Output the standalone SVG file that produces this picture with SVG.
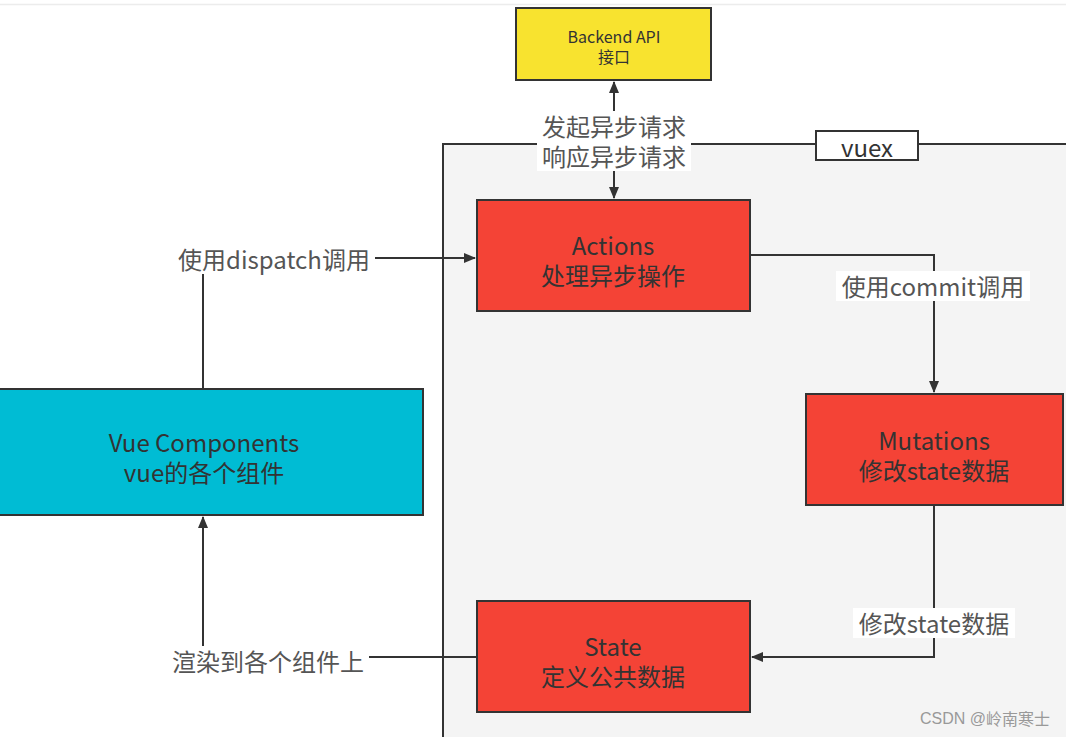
<svg xmlns="http://www.w3.org/2000/svg" width="1066" height="737" viewBox="0 0 1066 737">
<style>
.box{stroke:#333;stroke-width:2}
.t{font-family:"Noto Sans CJK SC","Noto Sans",sans-serif;font-size:24px;fill:#333;text-anchor:middle;dominant-baseline:central}
.lbl{font-family:"Noto Sans CJK SC","Noto Sans",sans-serif;font-size:24px;fill:#555;text-anchor:middle;dominant-baseline:central}
.ln{fill:none;stroke:#333;stroke-width:2}
</style>
<defs>
<marker id="ah" viewBox="0 0 12 10" refX="11" refY="5" markerWidth="12" markerHeight="10" markerUnits="userSpaceOnUse" orient="auto-start-reverse">
<path d="M0,0 L12,5 L0,10 Z" fill="#333"/>
</marker>
</defs>
<rect x="0" y="0" width="1066" height="737" fill="#fff"/>
<line x1="0" y1="4.5" x2="1066" y2="4.5" stroke="#ececec" stroke-width="1.5"/>
<g id="vuex">
<rect x="443" y="144" width="640" height="620" fill="#f4f4f4" class="box"/>
<rect x="816" y="131" width="102" height="29" fill="#fff" class="box"/>
<text x="867" y="146" class="t">vuex</text>
</g>
<g id="connectors">
<line x1="614" y1="198" x2="614" y2="82" class="ln" marker-start="url(#ah)" marker-end="url(#ah)"/>
<polyline points="203,389 203,258 475,258" class="ln" marker-end="url(#ah)"/>
<polyline points="751,255 934,255 934,392" class="ln" marker-end="url(#ah)"/>
<polyline points="934,506 934,657 752,657" class="ln" marker-end="url(#ah)"/>
<polyline points="476,657 203,657 203,517" class="ln" marker-end="url(#ah)"/>
<rect x="537" y="111" width="154" height="60" fill="#fff"/>
<text x="614" y="125" class="lbl">发起异步请求</text>
<text x="614" y="155" class="lbl">响应异步请求</text>
<rect x="173" y="244" width="202" height="30" fill="#fff"/>
<text x="274" y="258" class="lbl">使用dispatch调用</text>
<rect x="836" y="271" width="194" height="30" fill="#fff"/>
<text x="933" y="285" class="lbl">使用commit调用</text>
<rect x="853" y="608" width="162" height="30" fill="#fff"/>
<text x="934" y="622" class="lbl">修改state数据</text>
<rect x="167" y="646" width="202" height="30" fill="#fff"/>
<text x="268" y="660" class="lbl">渲染到各个组件上</text>
</g>
<g id="backend">
<rect x="516" y="8" width="195" height="72" fill="#f8e32f" class="box"/>
<text x="614" y="36" class="t" style="font-size:16px">Backend API</text>
<text x="614" y="56" class="t" style="font-size:16px">接口</text>
</g>
<g id="actions">
<rect x="477" y="200" width="273" height="111" fill="#f44336" class="box"/>
<text x="613" y="244" class="t">Actions</text>
<text x="613" y="274" class="t">处理异步操作</text>
</g>
<g id="mutations">
<rect x="806" y="394" width="257" height="111" fill="#f44336" class="box"/>
<text x="934" y="439" class="t">Mutations</text>
<text x="934" y="469" class="t">修改state数据</text>
</g>
<g id="state">
<rect x="477" y="601" width="273" height="111" fill="#f44336" class="box"/>
<text x="613" y="645" class="t">State</text>
<text x="613" y="675" class="t">定义公共数据</text>
</g>
<g id="vue-components">
<rect x="-2" y="389" width="425" height="126" fill="#00bcd4" class="box"/>
<text x="204" y="441" class="t">Vue Components</text>
<text x="204" y="471" class="t">vue的各个组件</text>
</g>
<text x="1050" y="718" font-family="Liberation Sans,sans-serif" font-size="16" fill="#999" text-anchor="end" dominant-baseline="central">CSDN @<tspan font-family="Noto Sans CJK SC,sans-serif">岭南寒士</tspan></text>
</svg>
